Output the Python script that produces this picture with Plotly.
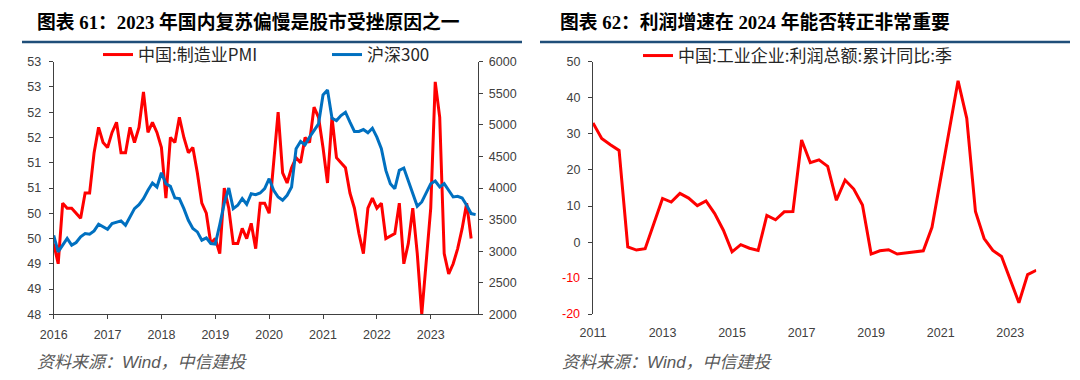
import plotly.graph_objects as go

# ---------------- data: left chart (monthly, Jan 2016 .. Nov 2023) ----------------
months = [f"{y}-{m:02d}" for y in range(2016, 2024) for m in range(1, 13) if not (y == 2023 and m == 12)]

pmi = [
    49.4, 49.0, 50.2, 50.1, 50.1, 50.0, 49.9, 50.4, 50.4, 51.2, 51.7, 51.4,   # 2016
    51.3, 51.6, 51.8, 51.2, 51.2, 51.7, 51.4, 51.7, 52.4, 51.6, 51.8, 51.6,   # 2017
    51.3, 50.3, 51.5, 51.4, 51.9, 51.5, 51.2, 51.3, 50.8, 50.2, 50.0, 49.4,   # 2018
    49.5, 49.2, 50.5, 50.1, 49.4, 49.4, 49.7, 49.5, 49.8, 49.3, 50.2, 50.2,   # 2019
    50.0, None, 52.0, 50.8, 50.6, 50.9, 51.1, 51.0, 51.5, 51.4, 52.1, 51.9,   # 2020
    51.3, 50.6, 51.9, 51.1, 51.0, 50.9, 50.4, 50.1, 49.6, 49.2, 50.1, 50.3,   # 2021
    50.1, 50.2, 49.5, None, 49.6, 50.2, 49.0, 49.4, 50.1, 49.2, 48.0, None,   # 2022
    50.1, 52.6, 51.9, 49.2, 48.8, 49.0, 49.3, 49.7, 50.2, 49.5, None,         # 2023
]

hs300 = [
    3250, 2989, 3095, 3200, 3095, 3137, 3226, 3279, 3268, 3321, 3426, 3384,   # 2016
    3347, 3437, 3463, 3479, 3410, 3542, 3674, 3737, 3832, 3963, 4079, 4016,   # 2017
    4242, 4068, 4026, 3842, 3832, 3674, 3489, 3358, 3305, 3174, 3211, 3121,   # 2018
    3111, 3420, 3760, 4000, 3674, 3726, 3832, 3742, 3910, 3895, 3921, 3989,   # 2019
    4147, 3963, 3858, 3805, 3884, 4016, 4621, 4737, 4684, 4805, 4910, 5016,   # 2020
    5474, 5553, 5105, 5068, 5147, 5200, 5042, 4895, 4895, 4926, 4874, 4947,   # 2021
    4805, 4621, 4279, 4068, 3989, 4279, 4316, 4121, 3937, 3711, 3779, 3926,   # 2022
    4068, 4110, 4016, 4068, 3963, 3858, 3868, 3842, 3726, 3595, 3579,         # 2023
]

left_year_ticks = [2016, 2017, 2018, 2019, 2020, 2021, 2022, 2023]
left_year_labels = ["2016", "2017", "2018", "2019", "2020", "2021", "2022", "2023"]
pmi_ticks = [48, 48.5, 49, 49.5, 50, 50.5, 51, 51.5, 52, 52.5, 53]
pmi_ticklabels = ["48", "49", "49", "50", "50", "51", "51", "52", "52", "53", "53"]
hs_ticks = [2000, 2500, 3000, 3500, 4000, 4500, 5000, 5500, 6000]
hs_ticklabels = ["2000", "2500", "3000", "3500", "4000", "4500", "5000", "5500", "6000"]

# ---------------- data: right chart (quarterly, 2011Q1 .. 2023Q4) ----------------
quarters = [f"{y}Q{q}" for y in range(2011, 2024) for q in range(1, 5)]
profit = [
    33.0, 28.7, 27.0, 25.4,     # 2011
    -1.3, -2.2, -1.8, 5.3,      # 2012
    12.1, 11.1, 13.5, 12.2,     # 2013
    10.1, 11.4, 7.9, 3.3,       # 2014
    -2.7, -0.7, -1.7, -2.3,     # 2015
    7.4, 6.2, 8.4, 8.5,         # 2016
    28.3, 22.0, 22.8, 21.0,     # 2017
    11.6, 17.2, 14.7, 10.3,     # 2018
    -3.3, -2.4, -2.1, -3.3,     # 2019
    None, None, -2.4, 4.1,      # 2020
    None, None, 44.7, 34.3,     # 2021
    8.5, 1.0, -2.3, -4.0,       # 2022
    None, -16.8, -9.0, -7.8,    # 2023
]
right_year_ticks = [2011, 2013, 2015, 2017, 2019, 2021, 2023]
right_year_labels = ["2011", "2013", "2015", "2017", "2019", "2021", "2023"]
profit_ticks = [-20, -10, 0, 10, 20, 30, 40, 50]
profit_ticklabels = ["-20", "-10", "0", "10", "20", "30", "40", "50"]

# ---------------- styling ----------------
W, H = 1080, 380
OFF = 8  # page body margin: screen pixel s is figure pixel s - OFF
RED = "#FF0000"
BLUE = "#0070C0"
AX = "#404040"
TICKFONT = dict(family="Liberation Sans, Arial, sans-serif", size=12.5, color=AX)
CJK = "Noto Sans CJK SC"


def px_x(p):
    return (p - OFF) / W


def px_y(p):
    return 1 - (p - OFF) / H


month_x = [int(s[:4]) + (int(s[5:7]) - 1) / 12 for s in months]
quarter_x = [int(s[:4]) + (int(s[-1]) - 1) / 4 for s in quarters]

ydom = [px_y(314.3), px_y(61.7)]

fig = go.Figure()

fig.add_trace(go.Scatter(
    x=month_x, y=pmi, name="中国:制造业PMI", mode="lines",
    line=dict(color=RED, width=3), connectgaps=True,
    xaxis="x", yaxis="y", legend="legend",
))
fig.add_trace(go.Scatter(
    x=month_x, y=hs300, name="沪深300", mode="lines",
    line=dict(color=BLUE, width=3), connectgaps=True,
    xaxis="x", yaxis="y2", legend="legend2",
))
fig.add_trace(go.Scatter(
    x=quarter_x, y=profit, name="中国:工业企业:利润总额:累计同比:季", mode="lines",
    line=dict(color=RED, width=3), connectgaps=True,
    xaxis="x3", yaxis="y3", legend="legend3",
))

# non-negative labels are axis tick labels; negative ones are drawn red beside their ticks
pos_text = [t if v >= 0 else "" for v, t in zip(profit_ticks, profit_ticklabels)]

zero_pos = ydom[0] + (0 - (-20)) / 70 * (ydom[1] - ydom[0])

common_axis = dict(showgrid=False, zeroline=False, linecolor=AX, linewidth=1,
                   tickcolor=AX, ticklen=4, tickwidth=1, tickfont=TICKFONT,
                   automargin=False)

legend_common = dict(xanchor="left", yanchor="middle", orientation="h",
                     bgcolor="rgba(0,0,0,0)", itemwidth=30,
                     font=dict(family=CJK, size=17, color="#262626"))

fig.update_layout(
    width=W, height=H,
    margin=dict(l=0, r=0, t=0, b=0, pad=0, autoexpand=False),
    paper_bgcolor="white", plot_bgcolor="white",
    xaxis=dict(domain=[px_x(53.7), px_x(478.3)], range=[2016.0, 2023.883],
               tickmode="array", tickvals=left_year_ticks, ticktext=left_year_labels,
               showline=True, ticks="outside", anchor="y", ticklabelstandoff=5, **common_axis),
    yaxis=dict(domain=ydom, range=[48, 53], tickmode="array",
               tickvals=pmi_ticks, ticktext=pmi_ticklabels,
               showline=True, ticks="outside", anchor="x", ticklabelstandoff=5, **common_axis),
    yaxis2=dict(range=[2000, 6000], tickmode="array", tickvals=hs_ticks, ticktext=hs_ticklabels,
                overlaying="y", side="right", anchor="x",
                showline=True, ticks="outside", ticklabelstandoff=3, **common_axis),
    xaxis3=dict(domain=[px_x(593), px_x(1036.3)], range=[2011.0, 2023.75],
                tickmode="array", tickvals=right_year_ticks, ticktext=right_year_labels,
                showline=False, ticks="", anchor="y3", ticklabelstandoff=9, **common_axis),
    xaxis4=dict(range=[2011.0, 2023.75], overlaying="x3", anchor="free", position=zero_pos,
                tickmode="array", tickvals=right_year_ticks, showticklabels=False,
                showline=True, ticks="outside", **common_axis),
    yaxis3=dict(domain=ydom, range=[-20, 50], tickmode="array",
                tickvals=profit_ticks, ticktext=pos_text,
                showline=True, ticks="outside", anchor="x3", ticklabelstandoff=5, **common_axis),
    legend=dict(x=px_x(98), y=px_y(55), **legend_common),
    legend2=dict(x=px_x(327), y=px_y(55), **legend_common),
    legend3=dict(x=px_x(638), y=px_y(56), **legend_common),
    showlegend=True,
)

# red negative tick labels of the right chart
for v, t in zip(profit_ticks, profit_ticklabels):
    if v < 0:
        fig.add_annotation(text=t, x=px_x(582), xref="paper", y=v, yref="y3",
                           xanchor="right", yanchor="middle", showarrow=False,
                           font=dict(family=TICKFONT["family"], size=TICKFONT["size"], color=RED))

# Titles
title_font = dict(family=f"Liberation Serif, {CJK}", size=18.8, color="#000000", weight="bold")
fig.add_annotation(text="图表 61：2023 年国内复苏偏慢是股市受挫原因之一",
                   x=px_x(35), y=px_y(22), xref="paper", yref="paper",
                   xanchor="left", yanchor="middle", showarrow=False, font=title_font)
fig.add_annotation(text="图表 62：利润增速在 2024 年能否转正非常重要",
                   x=px_x(558), y=px_y(22), xref="paper", yref="paper",
                   xanchor="left", yanchor="middle", showarrow=False, font=title_font)

# Sources
src_font = dict(family=f"Liberation Sans, {CJK}", size=17, color="#595959", style="italic")
fig.add_annotation(text="资料来源：Wind，中信建投",
                   x=px_x(35), y=px_y(362), xref="paper", yref="paper",
                   xanchor="left", yanchor="middle", showarrow=False, font=src_font)
fig.add_annotation(text="资料来源：Wind，中信建投",
                   x=px_x(560), y=px_y(362), xref="paper", yref="paper",
                   xanchor="left", yanchor="middle", showarrow=False, font=src_font)

# Rules under titles
for x0, x1 in [(22, 522), (540, 1070)]:
    fig.add_shape(type="line", xref="paper", yref="paper",
                  x0=px_x(x0), x1=px_x(x1), y0=px_y(42), y1=px_y(42),
                  line=dict(color="#1F4E79", width=2.5))

fig.write_html("out.html")
